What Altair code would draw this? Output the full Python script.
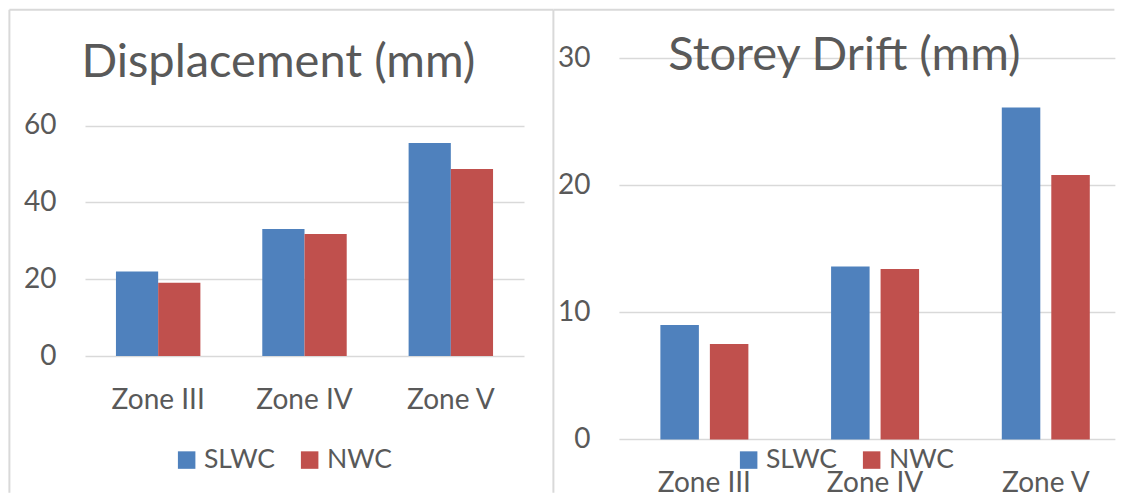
import altair as alt
import pandas as pd

# ---------------- data ----------------
zones = ["Zone III", "Zone IV", "Zone V"]
series = ["SLWC", "NWC"]
colors = ["#4F81BD", "#C0504D"]

disp_slwc = [22.0, 33.1, 55.5]
disp_nwc = [19.1, 31.8, 48.7]
drift_slwc = [9.0, 13.6, 26.1]
drift_nwc = [7.5, 13.4, 20.8]

disp_ticks = [0, 20, 40, 60]
drift_ticks = [0, 10, 20, 30]

disp_title = "Displacement (mm)"
drift_title = "Storey Drift (mm)"


def long_table(slwc, nwc):
    rows = []
    for z, a, b in zip(zones, slwc, nwc):
        rows.append({"zone": z, "series": series[0], "value": a})
        rows.append({"zone": z, "series": series[1], "value": b})
    return pd.DataFrame(rows)


FONT = "Lato"
TXT = "#595959"
GRID = "#d9d9d9"
FRAME = "#d9d9d9"


def panel(df, title, title_x, title_y, ymax, ticks, width, height,
          xscale, offscale, legx, legy, frames):
    color = alt.Color(
        "series:N",
        sort=series,
        scale=alt.Scale(domain=series, range=colors),
        legend=alt.Legend(
            orient="none", legendX=legx, legendY=legy, direction="horizontal",
            title=None, symbolType="square", symbolSize=306, symbolStrokeWidth=0,
            labelFont=FONT, labelFontSize=26.5, labelColor=TXT, labelOffset=4,
            columnPadding=21, padding=0,
        ),
    )
    bars = alt.Chart(df).mark_bar().encode(
        x=alt.X("zone:N", sort=zones, scale=xscale, title=None,
                axis=alt.Axis(labelAngle=0, labelPadding=30, grid=False)),
        xOffset=alt.XOffset("series:N", sort=series, scale=offscale),
        y=alt.Y("value:Q", title=None,
                scale=alt.Scale(domain=[0, ymax], nice=False, zero=True),
                axis=alt.Axis(values=ticks, labelPadding=29, grid=True)),
        color=color,
    )
    fdf = pd.DataFrame({"k": [0]})
    layers = [bars]
    for kind, a, b, c in frames:
        base = alt.Chart(fdf).mark_rule(color=FRAME, strokeWidth=2)
        if kind == "h":
            layers.append(base.encode(x=alt.value(a), x2=alt.value(b), y=alt.value(c)))
        else:
            layers.append(base.encode(x=alt.value(a), y=alt.value(b), y2=alt.value(c)))
    ttl = alt.Chart(fdf).mark_text(
        text=title, font=FONT, fontSize=47, color=TXT, align="center",
        baseline="alphabetic",
    ).encode(x=alt.value(title_x), y=alt.value(title_y))
    layers.append(ttl)
    return alt.layer(*layers).properties(width=width, height=height)


left = panel(
    long_table(disp_slwc, disp_nwc), disp_title, 193.4, 18.7, 77.64, disp_ticks,
    439, 298,
    alt.Scale(paddingInner=0.423, paddingOuter=0.2115),
    alt.Scale(paddingInner=0, paddingOuter=0),
    88.4, 388.7,
    [("h", -75.6, 468.4, -48.3), ("v", -75.6, -48.3, 434.7)],
)

right = panel(
    long_table(drift_slwc, drift_nwc), drift_title, 225.5, 12, 30, drift_ticks,
    496, 381.4,
    alt.Scale(paddingInner=0.4845, paddingOuter=0.195, align=0.623),
    alt.Scale(paddingInner=0.222, paddingOuter=0),
    116.5, 388.7,
    [("h", -65.5, 495.5, -48.3), ("v", -65.5, -48.3, 434.7)],
)

chart = alt.hconcat(left, right, spacing=94.9, bounds="flush").resolve_scale(
    color="independent", xOffset="independent"
).resolve_legend(color="independent").properties(padding=0).configure_view(
    strokeWidth=0
).configure_axis(
    domain=False, ticks=False, gridColor=GRID, gridWidth=1.3,
    labelFont=FONT, labelFontSize=28, labelColor=TXT,
)

chart.save("out.html", embed_options={"renderer": "svg", "actions": False})
